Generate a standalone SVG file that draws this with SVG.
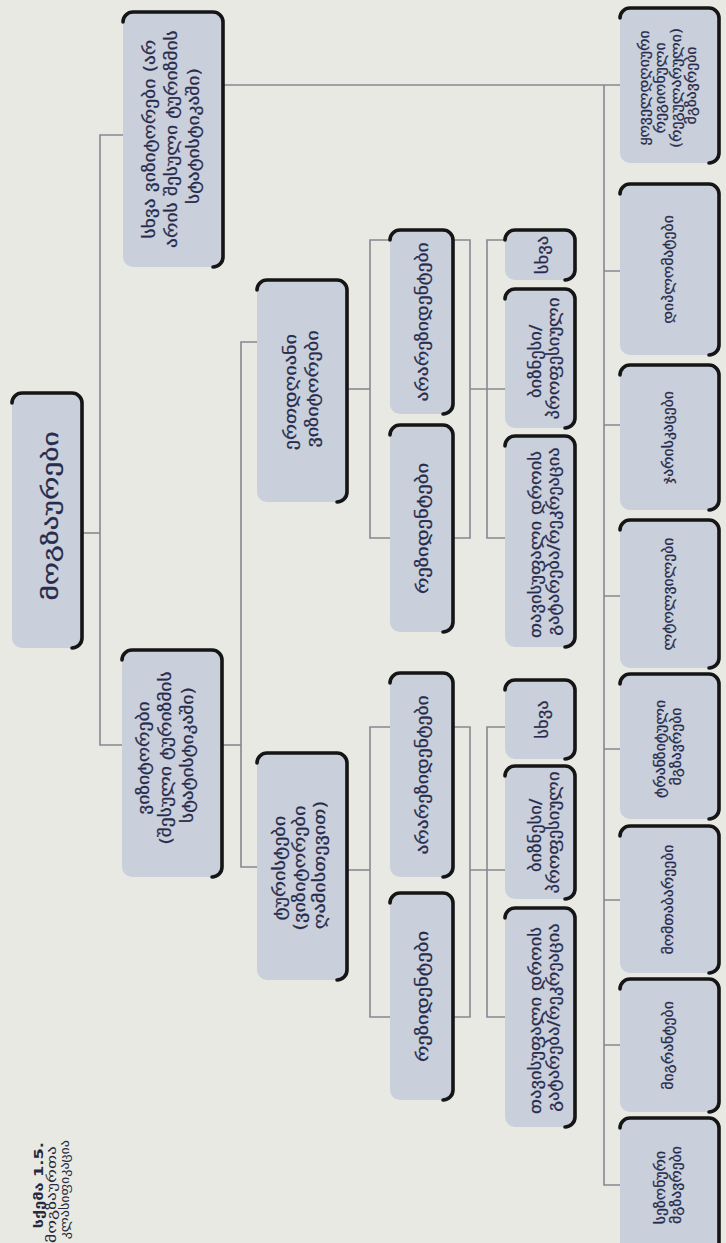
<svg xmlns="http://www.w3.org/2000/svg" width="726" height="1243" viewBox="0 0 726 1243">
  <style>
    .bg { fill: #e8e9e3; }
    .bx { fill: #cad0db; }
    .edge { fill: none; stroke: #151515; stroke-width: 3.6; stroke-linecap: round; }
    .ln { fill: none; stroke: #868891; stroke-width: 1.6; }
    .t { font-family: "DejaVu Sans", "Noto Sans", sans-serif; fill: #272b4d; stroke: #272b4d; stroke-width: 0.25; text-anchor: middle; }
    .f21 { font-size: 21px; }
    .f17 { font-size: 16.5px; }
    .f15 { font-size: 15.5px; }
    .f14 { font-size: 14px; }
    .cap { font-family: "DejaVu Sans", "Noto Sans", sans-serif; fill: #262940; font-size: 13px; text-anchor: end; }
  </style>
  <rect class="bg" x="0" y="0" width="726" height="1243"/>

  <!-- connectors: brackets between tree levels -->
  <g id="connectors">
    <path class="ln" d="M82,533 H100"/>
    <path class="ln" d="M123,135 H100 V745 H122"/>
    <path class="ln" d="M223,85 H620"/>
    <path class="ln" d="M604,85 V1185 H620"/>
    <path class="ln" d="M604,271 H620 M604,425 H620 M604,596 H620 M604,749 H620 M604,900 H620 M604,1045 H620"/>
    <path class="ln" d="M222,745 H241"/>
    <path class="ln" d="M257,342 H241 V867 H257"/>
    <path class="ln" d="M347,389 H370"/>
    <path class="ln" d="M390,240 H370 V538 H390"/>
    <path class="ln" d="M347,870 H370"/>
    <path class="ln" d="M390,727 H370 V1017 H390"/>
    <path class="ln" d="M453,240 H470 V538 H453"/>
    <path class="ln" d="M505,240 H487 V538 H505"/>
    <path class="ln" d="M470,389 H505"/>
    <path class="ln" d="M453,727 H470 V1017 H453"/>
    <path class="ln" d="M505,727 H487 V1017 H505"/>
    <path class="ln" d="M470,870 H505"/>
  </g>

  <!-- level 1 -->
  <g id="travellers">
    <rect class="bx" x="12" y="393" width="70" height="255" rx="10"/>
    <path class="edge" d="M12,403 A10,10 0 0 1 22,393 H72 A10,10 0 0 1 82,403 V638 A10,10 0 0 1 72,648"/>
    <text class="t f21" transform="translate(51,516) rotate(-90) scale(1.4,1)"><tspan x="0" y="7">მოგზაურები</tspan></text>
  </g>

  <!-- level 2 -->
  <g id="other-travellers">
    <rect class="bx" x="123" y="12" width="100" height="255" rx="10"/>
    <path class="edge" d="M123,22 A10,10 0 0 1 133,12 H213 A10,10 0 0 1 223,22 V257 A10,10 0 0 1 213,267"/>
    <text class="t f17" transform="translate(171,136) rotate(-90) scale(1.18,1)">
      <tspan x="0" y="-16">სხვა ვიზიტორები (არ</tspan>
      <tspan x="0" y="6">არის შესული ტურიზმის</tspan>
      <tspan x="0" y="28">სტატისტიკაში)</tspan>
    </text>
  </g>
  <g id="visitors">
    <rect class="bx" x="122" y="650" width="100" height="227" rx="10"/>
    <path class="edge" d="M122,660 A10,10 0 0 1 132,650 H212 A10,10 0 0 1 222,660 V867 A10,10 0 0 1 212,877"/>
    <text class="t f17" transform="translate(165,755) rotate(-90) scale(1.18,1)">
      <tspan x="0" y="-16">ვიზიტორები</tspan>
      <tspan x="0" y="6">(შესული ტურიზმის</tspan>
      <tspan x="0" y="28">სტატისტიკაში)</tspan>
    </text>
  </g>

  <!-- level 3 -->
  <g id="same-day-visitors">
    <rect class="bx" x="257" y="280" width="90" height="222" rx="10"/>
    <path class="edge" d="M257,290 A10,10 0 0 1 267,280 H337 A10,10 0 0 1 347,290 V492 A10,10 0 0 1 337,502"/>
    <text class="t f17" transform="translate(301,389) rotate(-90) scale(1.22,1)">
      <tspan x="0" y="-5">ერთდღიანი</tspan>
      <tspan x="0" y="17">ვიზიტორები</tspan>
    </text>
  </g>
  <g id="tourists">
    <rect class="bx" x="257" y="753" width="90" height="227" rx="10"/>
    <path class="edge" d="M257,763 A10,10 0 0 1 267,753 H337 A10,10 0 0 1 347,763 V970 A10,10 0 0 1 337,980"/>
    <text class="t f17" transform="translate(299,865) rotate(-90) scale(1.22,1)">
      <tspan x="0" y="-14">ტურისტები</tspan>
      <tspan x="0" y="6">(ვიზიტორები</tspan>
      <tspan x="0" y="26">ღამისთევით)</tspan>
    </text>
  </g>

  <!-- level 4 -->
  <g id="non-residents-1">
    <rect class="bx" x="390" y="230" width="63" height="184" rx="10"/>
    <path class="edge" d="M390,240 A10,10 0 0 1 400,230 H443 A10,10 0 0 1 453,240 V404 A10,10 0 0 1 443,414"/>
    <text class="t f17" transform="translate(421.5,322) rotate(-90) scale(1.18,1)"><tspan x="0" y="6">არარეზიდენტები</tspan></text>
  </g>
  <g id="residents-1">
    <rect class="bx" x="390" y="425" width="63" height="207" rx="10"/>
    <path class="edge" d="M390,435 A10,10 0 0 1 400,425 H443 A10,10 0 0 1 453,435 V622 A10,10 0 0 1 443,632"/>
    <text class="t f17" transform="translate(421.5,528.5) rotate(-90) scale(1.25,1)"><tspan x="0" y="6">რეზიდენტები</tspan></text>
  </g>
  <g id="non-residents-2">
    <rect class="bx" x="390" y="673" width="63" height="204" rx="10"/>
    <path class="edge" d="M390,683 A10,10 0 0 1 400,673 H443 A10,10 0 0 1 453,683 V867 A10,10 0 0 1 443,877"/>
    <text class="t f17" transform="translate(421.5,775) rotate(-90) scale(1.18,1)"><tspan x="0" y="6">არარეზიდენტები</tspan></text>
  </g>
  <g id="residents-2">
    <rect class="bx" x="390" y="893" width="63" height="207" rx="10"/>
    <path class="edge" d="M390,903 A10,10 0 0 1 400,893 H443 A10,10 0 0 1 453,903 V1090 A10,10 0 0 1 443,1100"/>
    <text class="t f17" transform="translate(421.5,996.5) rotate(-90) scale(1.25,1)"><tspan x="0" y="6">რეზიდენტები</tspan></text>
  </g>

  <!-- level 5: purpose of trip -->
  <g id="other-1">
    <rect class="bx" x="505" y="230" width="70" height="50" rx="10"/>
    <path class="edge" d="M505,240 A10,10 0 0 1 515,230 H565 A10,10 0 0 1 575,240 V270 A10,10 0 0 1 565,280"/>
    <text class="t f15" transform="translate(543,255) rotate(-90) scale(1.2,1)"><tspan x="0" y="5">სხვა</tspan></text>
  </g>
  <g id="business-1">
    <rect class="bx" x="505" y="289" width="70" height="139" rx="10"/>
    <path class="edge" d="M505,299 A10,10 0 0 1 515,289 H565 A10,10 0 0 1 575,299 V418 A10,10 0 0 1 565,428"/>
    <text class="t f15" transform="translate(545,358.5) rotate(-90) scale(1.2,1)">
      <tspan x="0" y="-4">ბიზნესი/</tspan>
      <tspan x="0" y="14">პროფესიული</tspan>
    </text>
  </g>
  <g id="leisure-1">
    <rect class="bx" x="505" y="436" width="70" height="211" rx="10"/>
    <path class="edge" d="M505,446 A10,10 0 0 1 515,436 H565 A10,10 0 0 1 575,446 V637 A10,10 0 0 1 565,647"/>
    <text class="t f15" transform="translate(545,541.5) rotate(-90) scale(1.2,1)">
      <tspan x="0" y="-4">თავისუფალი დროის</tspan>
      <tspan x="0" y="14">გატარება/რეკრეაცია</tspan>
    </text>
  </g>
  <g id="other-2">
    <rect class="bx" x="505" y="680" width="70" height="79" rx="10"/>
    <path class="edge" d="M505,690 A10,10 0 0 1 515,680 H565 A10,10 0 0 1 575,690 V749 A10,10 0 0 1 565,759"/>
    <text class="t f15" transform="translate(543,719.5) rotate(-90) scale(1.2,1)"><tspan x="0" y="5">სხვა</tspan></text>
  </g>
  <g id="business-2">
    <rect class="bx" x="505" y="766" width="70" height="133" rx="10"/>
    <path class="edge" d="M505,776 A10,10 0 0 1 515,766 H565 A10,10 0 0 1 575,776 V889 A10,10 0 0 1 565,899"/>
    <text class="t f15" transform="translate(545,832.5) rotate(-90) scale(1.2,1)">
      <tspan x="0" y="-4">ბიზნესი/</tspan>
      <tspan x="0" y="14">პროფესიული</tspan>
    </text>
  </g>
  <g id="leisure-2">
    <rect class="bx" x="505" y="908" width="70" height="219" rx="10"/>
    <path class="edge" d="M505,918 A10,10 0 0 1 515,908 H565 A10,10 0 0 1 575,918 V1117 A10,10 0 0 1 565,1127"/>
    <text class="t f15" transform="translate(545,1017.5) rotate(-90) scale(1.2,1)">
      <tspan x="0" y="-4">თავისუფალი დროის</tspan>
      <tspan x="0" y="14">გატარება/რეკრეაცია</tspan>
    </text>
  </g>

  <!-- right column: categories outside tourism statistics -->
  <g id="daily-travellers">
    <rect class="bx" x="620" y="8" width="99" height="155" rx="10"/>
    <path class="edge" d="M620,18 A10,10 0 0 1 630,8 H709 A10,10 0 0 1 719,18 V153 A10,10 0 0 1 709,163"/>
    <text class="t f14" transform="translate(668,85.5) rotate(-90) scale(1.12,1)">
      <tspan x="0" y="-19.5">ყოველდღიური</tspan>
      <tspan x="0" y="-3.5">რეგიონული</tspan>
      <tspan x="0" y="12.5">(რეგულარული)</tspan>
      <tspan x="0" y="28.5">მგზავრები</tspan>
    </text>
  </g>
  <g id="diplomats">
    <rect class="bx" x="620" y="184" width="99" height="171" rx="10"/>
    <path class="edge" d="M620,194 A10,10 0 0 1 630,184 H709 A10,10 0 0 1 719,194 V345 A10,10 0 0 1 709,355"/>
    <text class="t f14" transform="translate(668,269.5) rotate(-90) scale(1.12,1)"><tspan x="0" y="5">დიპლომატები</tspan></text>
  </g>
  <g id="soldiers">
    <rect class="bx" x="620" y="365" width="99" height="145" rx="10"/>
    <path class="edge" d="M620,375 A10,10 0 0 1 630,365 H709 A10,10 0 0 1 719,375 V500 A10,10 0 0 1 709,510"/>
    <text class="t f14" transform="translate(668,437.5) rotate(-90) scale(1.12,1)"><tspan x="0" y="5">ჯარისკაცები</tspan></text>
  </g>
  <g id="refugees">
    <rect class="bx" x="620" y="520" width="99" height="148" rx="10"/>
    <path class="edge" d="M620,530 A10,10 0 0 1 630,520 H709 A10,10 0 0 1 719,530 V658 A10,10 0 0 1 709,668"/>
    <text class="t f14" transform="translate(668,594) rotate(-90) scale(1.12,1)"><tspan x="0" y="5">ლტოლვილები</tspan></text>
  </g>
  <g id="transit-passengers">
    <rect class="bx" x="620" y="674" width="99" height="145" rx="10"/>
    <path class="edge" d="M620,684 A10,10 0 0 1 630,674 H709 A10,10 0 0 1 719,684 V809 A10,10 0 0 1 709,819"/>
    <text class="t f14" transform="translate(668,746.5) rotate(-90) scale(1.12,1)">
      <tspan x="0" y="-3">ტრანზიტული</tspan>
      <tspan x="0" y="13">მგზავრები</tspan>
    </text>
  </g>
  <g id="nomads">
    <rect class="bx" x="620" y="826" width="99" height="147" rx="10"/>
    <path class="edge" d="M620,836 A10,10 0 0 1 630,826 H709 A10,10 0 0 1 719,836 V963 A10,10 0 0 1 709,973"/>
    <text class="t f14" transform="translate(668,899.5) rotate(-90) scale(1.12,1)"><tspan x="0" y="5">მომთაბარეები</tspan></text>
  </g>
  <g id="migrants">
    <rect class="bx" x="620" y="979" width="99" height="133" rx="10"/>
    <path class="edge" d="M620,989 A10,10 0 0 1 630,979 H709 A10,10 0 0 1 719,989 V1102 A10,10 0 0 1 709,1112"/>
    <text class="t f14" transform="translate(668,1045.5) rotate(-90) scale(1.12,1)"><tspan x="0" y="5">მიგრანტები</tspan></text>
  </g>
  <g id="seasonal-travellers">
    <rect class="bx" x="620" y="1118" width="99" height="140" rx="10"/>
    <path class="edge" d="M620,1128 A10,10 0 0 1 630,1118 H709 A10,10 0 0 1 719,1128 V1258"/>
    <text class="t f14" transform="translate(668,1185) rotate(-90) scale(1.12,1)">
      <tspan x="0" y="-3">სეზონური</tspan>
      <tspan x="0" y="13">მგზავრები</tspan>
    </text>
  </g>

  <!-- figure caption, set flush to its upper end -->
  <g id="caption">
    <text class="cap" font-weight="bold" transform="translate(43,1142) rotate(-90) scale(1.25,1)">სქემა 1.5.</text>
    <text class="cap" transform="translate(56,1146) rotate(-90) scale(1.35,1)">მოგზაურთა</text>
    <text class="cap" transform="translate(69,1140) rotate(-90) scale(1.08,1)">კლასიფიკაცია</text>
  </g>
</svg>
